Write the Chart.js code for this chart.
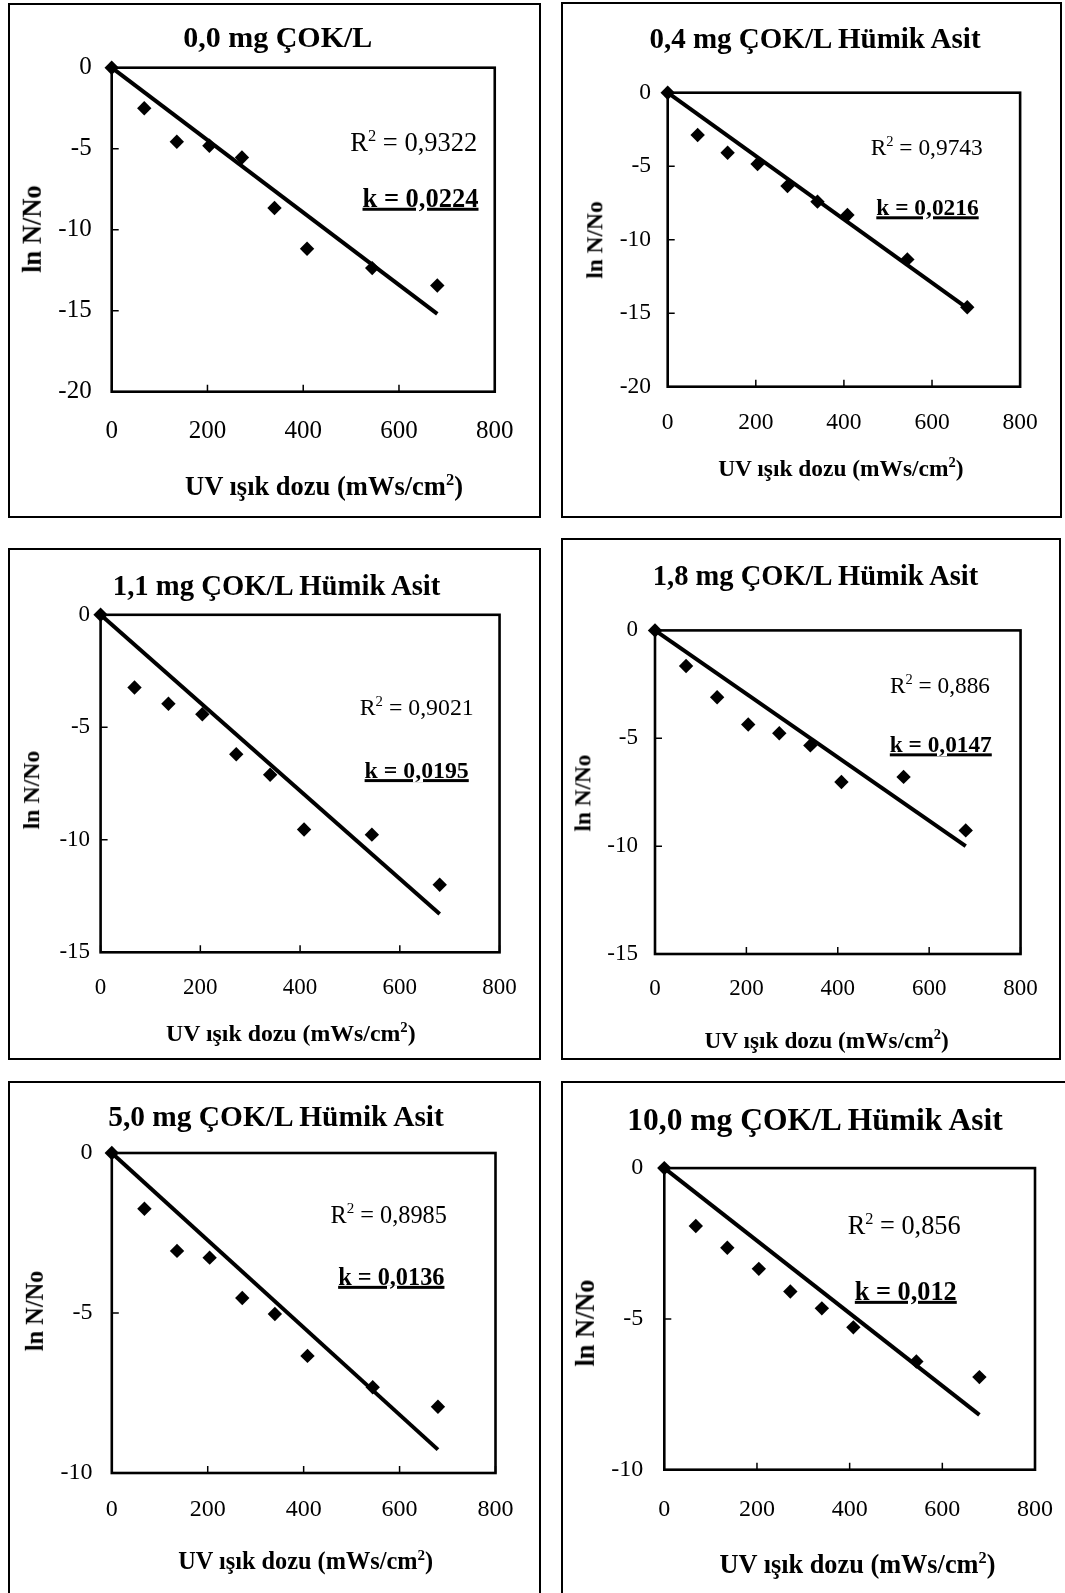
<!DOCTYPE html>
<html>
<head>
<meta charset="utf-8">
<script src="https://cdn.jsdelivr.net/npm/chart.js@4.4.1/dist/chart.umd.min.js"></script>
<style>
    html, body { margin: 0; padding: 0; background: #fff; }
    body {
        width: 1065px; height: 1593px; position: relative; overflow: hidden;
        font-family: "Liberation Serif", "Times New Roman", serif; color: #000;
    }
    .box { position: absolute; border: 2px solid #000; box-sizing: border-box; background: #fff; }
    .box canvas { position: absolute; left: -2px; top: -2px; }
    .txt { position: absolute; white-space: nowrap; line-height: 1; transform: translate(-50%, -50%); }
    .txt.b { font-weight: bold; }
    .txt.rot { transform: translate(-50%, -50%) rotate(-90deg); }
    .txt sup { font-size: 0.62em; vertical-align: baseline; position: relative; top: -0.62em; line-height: 0; }
    .txt.k { font-weight: bold; text-decoration: underline; text-decoration-thickness: 2.5px; text-underline-offset: 1px; }
</style>
</head>
<body>
<script>
// ---- data ----
const doses = [0, 68, 136, 204, 272, 340, 408, 544, 680];
const lnP1 = [0, -2.5, -4.57, -4.82, -5.54, -8.66, -11.18, -12.37, -13.44];
const lnP2 = [0, -2.88, -4.08, -4.85, -6.35, -7.41, -8.32, -11.34, -14.6];
const lnP3 = [0, -3.23, -3.95, -4.42, -6.2, -7.11, -9.54, -9.77, -12.0];
const lnP4 = [0, -1.65, -3.1, -4.36, -4.77, -5.33, -7.03, -6.79, -9.27];
const lnP5 = [0, -1.74, -3.06, -3.27, -4.53, -5.03, -6.34, -7.32, -7.93];
const lnP6 = [0, -1.92, -2.64, -3.34, -4.09, -4.65, -5.28, -6.41, -6.93];
const series = [lnP1, lnP2, lnP3, lnP4, lnP5, lnP6];

const trendX = [0, 680];
const trendEnd = [-15.2, -14.65, -13.3, -10.0, -9.27, -8.18];

const titles = [
    '0,0 mg ÇOK/L',
    '0,4 mg ÇOK/L Hümik Asit',
    '1,1 mg ÇOK/L Hümik Asit',
    '1,8 mg ÇOK/L Hümik Asit',
    '5,0 mg ÇOK/L Hümik Asit',
    '10,0 mg ÇOK/L Hümik Asit'
];
const r2Values = ['0,9322', '0,9743', '0,9021', '0,886', '0,8985', '0,856'];
const kValues = ['0,0224', '0,0216', '0,0195', '0,0147', '0,0136', '0,012'];
const yMins = [-20, -20, -15, -15, -10, -10];
const yMax = 0, yStep = 5;
const xMin = 0, xMax = 800, xStep = 200;
const xTitle = 'UV ışık dozu (mWs/cm<sup>2</sup>)';
const yTitle = 'ln N/No';

// ---- layout (page pixels) ----
// box: [left, top, width, height]; plot: [left, top, right, bottom]
const panels = [
    { box: [8, 3, 533, 515], plot: [111.7, 67.7, 516.7, 391.7], fT: 30, fTick: 25, fLab: 26.5, yPad: 20, xOff: 40,
      title: [277.8, 36.5], yT: [32.1, 229.2], xT: [324, 486], r2: [413.8, 141.7], k: [420.5, 198] },
    { box: [561, 2, 501, 516], plot: [667.7, 92.7, 1028, 386.7], fT: 29, fTick: 23.5, fLab: 23.4, yPad: 16.7, xOff: 36,
      title: [815, 37.5], yT: [595, 240], xT: [840.8, 469], r2: [926.7, 148.3], k: [927.5, 208.3] },
    { box: [8, 548, 533, 512], plot: [100.6, 614.8, 508.4, 952.3], fT: 28.7, fTick: 23, fLab: 23.8, yPad: 10.5, xOff: 35.7,
      title: [276.6, 584.5], yT: [32.3, 789.7], xT: [290.9, 1034.4], r2: [416.7, 708.3], k: [416.7, 770.6] },
    { box: [561, 538, 500, 522], plot: [655, 630.4, 1028.3, 954], fT: 28.5, fTick: 23, fLab: 23.3, yPad: 17, xOff: 34.7,
      title: [815.5, 576], yT: [583.3, 793], xT: [826.7, 1041.3], r2: [940, 685.8], k: [940.8, 744.6] },
    { box: [8, 1081, 533, 530], plot: [111.8, 1153, 495.5, 1473], fT: 29.4, fTick: 24, fLab: 24.3, yPad: 19.4, xOff: 36.7,
      title: [276, 1117], yT: [35, 1311], xT: [305.7, 1561], r2: [388.7, 1214.8], k: [391.3, 1277.3] },
    { box: [561, 1081, 520, 530], plot: [664.3, 1168.1, 1042.3, 1469.7], fT: 31.5, fTick: 24, fLab: 26.3, yPad: 21, xOff: 40,
      title: [815, 1120], yT: [585.8, 1322.5], xT: [857.5, 1565], r2: [904.2, 1226.3], k: [905.8, 1292] }
];

Chart.defaults.font.family = '"Liberation Serif", "Times New Roman", serif';
Chart.defaults.color = '#000';

// plot frame + inward tick marks (Excel style)
const framePlugin = {
    id: 'frame',
    beforeDatasetsDraw(chart) {
        const { ctx, chartArea: a, scales: { x, y } } = chart;
        ctx.save();
        ctx.strokeStyle = '#000';
        ctx.lineWidth = 1.5;
        ctx.beginPath();
        x.ticks.forEach(t => {
            const px = x.getPixelForValue(t.value);
            ctx.moveTo(px, a.bottom);
            ctx.lineTo(px, a.bottom - 7);
        });
        y.ticks.forEach(t => {
            const py = y.getPixelForValue(t.value);
            ctx.moveTo(a.left, py);
            ctx.lineTo(a.left + 7, py);
        });
        ctx.stroke();
        ctx.lineWidth = 2.6;
        ctx.strokeRect(a.left, a.top, a.width, a.height);
        ctx.restore();
    }
};

function addText(html, pos, size, cls) {
    const d = document.createElement('div');
    d.className = 'txt ' + cls;
    d.style.left = pos[0] + 'px';
    d.style.top = pos[1] + 'px';
    d.style.fontSize = size + 'px';
    d.innerHTML = html;
    document.body.appendChild(d);
}

panels.forEach((p, i) => {
    const [bx, by, bw, bh] = p.box;
    const [pl, pt, pr, pb] = p.plot;

    const box = document.createElement('div');
    box.className = 'box';
    box.style.left = bx + 'px';
    box.style.top = by + 'px';
    box.style.width = bw + 'px';
    box.style.height = bh + 'px';
    const canvas = document.createElement('canvas');
    canvas.width = bw;
    canvas.height = bh;
    box.appendChild(canvas);
    document.body.appendChild(box);

    const yScaleWidth = pl - bx;
    const xScaleHeight = by + bh - pb;

    new Chart(canvas, {
        type: 'scatter',
        data: {
            datasets: [
                {
                    data: doses.map((d, j) => ({ x: d, y: series[i][j] })),
                    pointStyle: 'rectRot',
                    pointRadius: 7.2,
                    pointBackgroundColor: '#000',
                    pointBorderColor: '#000',
                    pointBorderWidth: 0,
                    clip: false
                },
                {
                    data: trendX.map((d, j) => ({ x: d, y: j === 0 ? 0 : trendEnd[i] })),
                    showLine: true,
                    borderColor: '#000',
                    borderWidth: 4,
                    pointRadius: 0,
                    clip: false
                }
            ]
        },
        options: {
            responsive: false,
            animation: false,
            events: [],
            layout: { padding: { top: pt - by, right: bx + bw - pr, left: 0, bottom: 0 } },
            plugins: { legend: { display: false }, tooltip: { enabled: false } },
            scales: {
                x: {
                    type: 'linear', min: xMin, max: xMax,
                    ticks: { stepSize: xStep, color: '#000', autoSkip: false, maxRotation: 0,
                             font: { size: p.fTick, lineHeight: 1 }, padding: p.xOff - p.fTick / 2 },
                    grid: { display: false, drawTicks: false },
                    border: { display: false },
                    afterFit: s => { s.height = xScaleHeight; }
                },
                y: {
                    type: 'linear', min: yMins[i], max: yMax,
                    ticks: { stepSize: yStep, color: '#000', autoSkip: false,
                             font: { size: p.fTick, lineHeight: 1 }, padding: p.yPad },
                    grid: { display: false, drawTicks: false },
                    border: { display: false },
                    afterFit: s => { s.width = yScaleWidth; }
                }
            }
        },
        plugins: [framePlugin]
    });

    addText(titles[i], p.title, p.fT, 'b');
    addText(yTitle, p.yT, p.fLab, 'b rot');
    addText(xTitle, p.xT, p.fLab, 'b');
    addText('R<sup>2</sup> = ' + r2Values[i], p.r2, p.fLab, '');
    addText('k = ' + kValues[i], p.k, p.fLab, 'k');
});
</script>
</body>
</html>
